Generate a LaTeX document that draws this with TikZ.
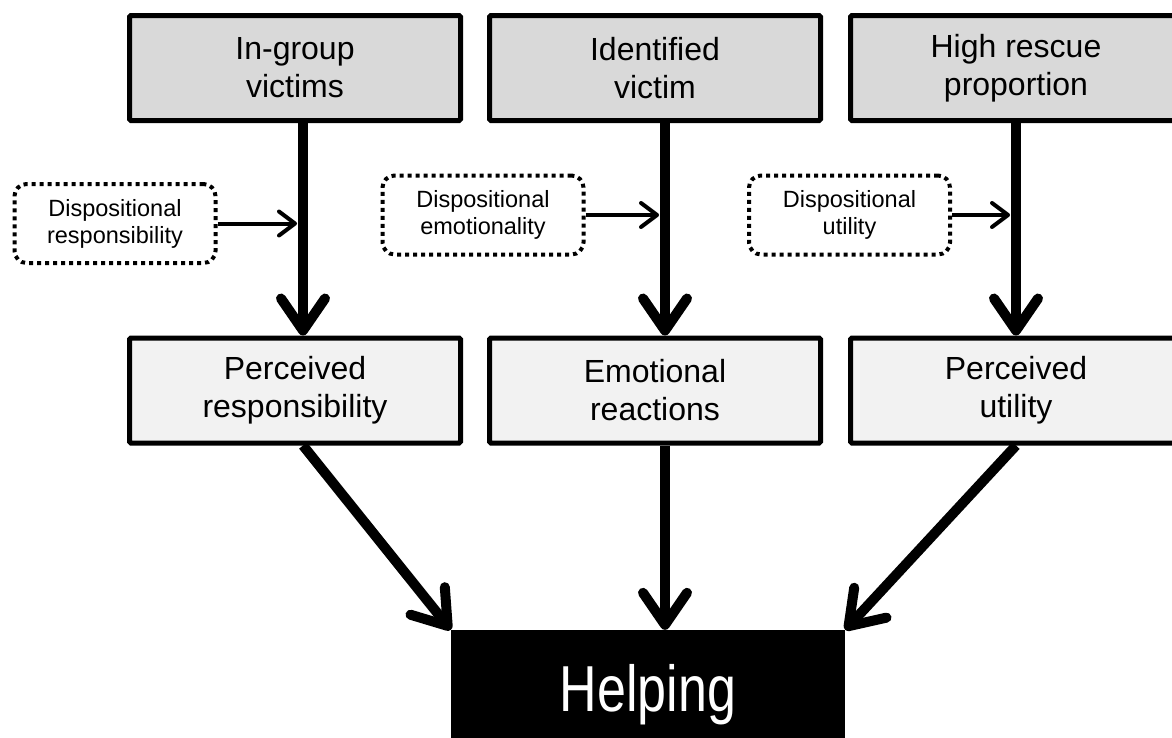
\documentclass[tikz,border=0pt]{standalone}
\usepackage{fontspec}
\setmainfont{Liberation Sans}
\usetikzlibrary{arrows.meta}
\definecolor{topgray}{HTML}{D9D9D9}
\definecolor{midgray}{HTML}{F2F2F2}
\begin{document}
\begin{tikzpicture}[x=1pt,y=-1pt,
  topbox/.style={draw=black, line width=5pt, rounded corners=1.5pt, fill=topgray,
    minimum width=331pt, minimum height=105pt, inner sep=0pt, align=center,
    font=\fontsize{32}{38}\selectfont},
  midbox/.style={topbox, fill=midgray},
  dispbox/.style={draw=black, line width=4pt, dash pattern=on 4pt off 4pt,
    rounded corners=12pt, minimum width=201pt, minimum height=79pt, inner sep=0pt,
    align=center, font=\fontsize{23.5}{27}\selectfont},
  helpbox/.style={fill=black, text=white, minimum width=394pt, minimum height=130pt,
    inner sep=0pt, font=\fontsize{52}{60}\selectfont},
  bigarrow/.style={line width=10pt, -{Straight Barb[length=32pt,width=44pt,round]}},
  thinarrow/.style={line width=4pt, -{Straight Barb[length=16pt,width=24pt,round]}}
]
\useasboundingbox (0,0) rectangle (1172,737);
\clip (0,0) rectangle (1172,737);
\coordinate (c1) at (303,0);
\coordinate (c2) at (665,0);
\coordinate (c3) at (1016,0);

\node[topbox] (t1) at (295,68) {In-group\\victims};
\node[topbox] (t2) at (655,68) {Identified\\victim};
\node[topbox] (t3) at (1016,68) {High rescue\\proportion};

\node[midbox] (m1) at (295,390.5) {Perceived\\responsibility};
\node[midbox] (m2) at (655,390.5) {Emotional\\reactions};
\node[midbox] (m3) at (1016,390.5) {Perceived\\utility};

\node[dispbox] (d1) at (115,223.5) {Dispositional\\responsibility};
\node[dispbox] (d2) at (483,215) {Dispositional\\emotionality};
\node[dispbox] (d3) at (849.5,215) {Dispositional\\utility};

\node[helpbox] (h) at (648,695) {\raisebox{7pt}{\scalebox{1}[1.25]{Helping}}};

\draw[bigarrow] (t1.south -| c1) -- (m1.north -| c1);
\draw[bigarrow] (t2.south -| c2) -- (m2.north -| c2);
\draw[bigarrow] (t3.south -| c3) -- (m3.north -| c3);

\draw[thinarrow] (d1.east) -- ([xshift=-6pt]d1.east -| c1);
\draw[thinarrow] (d2.east) -- ([xshift=-6pt]d2.east -| c2);
\draw[thinarrow] (d3.east) -- ([xshift=-6pt]d3.east -| c3);

\draw[bigarrow] (m1.south -| c1) -- (h.north west);
\draw[bigarrow] (m2.south -| c2) -- (h.north -| c2);
\draw[bigarrow] (m3.south -| c3) -- (h.north east);
\end{tikzpicture}
\end{document}
